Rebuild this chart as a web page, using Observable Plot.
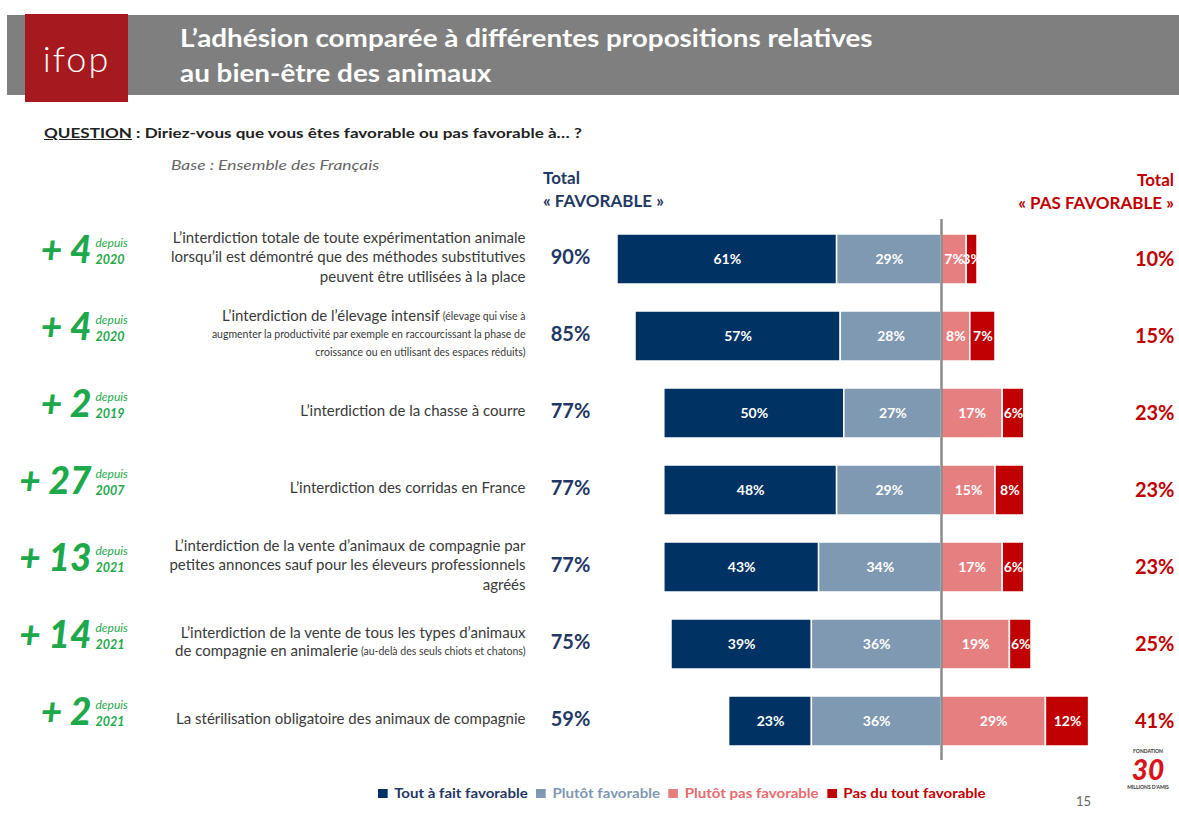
<!DOCTYPE html>
<html><head><meta charset="utf-8">
<script src="https://cdn.jsdelivr.net/npm/d3@7"></script>
<script src="https://cdn.jsdelivr.net/npm/@observablehq/plot@0.6"></script>
<style>
body{margin:0;background:#fff;font-family:Lato,"Open Sans",sans-serif;}
#page{position:relative;width:1179px;height:814px;overflow:hidden;background:#fff;}
.abs{position:absolute;white-space:nowrap;}
#band{left:7px;top:15px;width:1172px;height:80px;background:#7f7f7f;}
#logo{left:25px;top:14px;width:103px;height:88px;background:#a6191e;color:#fff;font-size:36px;font-weight:300;text-align:center;line-height:88px;letter-spacing:2px;}
#title{left:180px;top:20px;color:#fff;font-weight:700;font-size:24px;line-height:35px;transform:scaleX(1.16);transform-origin:0 0;}
#question{left:44px;top:124px;font-size:14px;font-weight:700;color:#222;transform:scaleX(1.22);transform-origin:0 0;}
#question u{text-decoration:underline;}
#base{left:171px;top:157px;font-size:13.5px;font-style:italic;color:#666;transform:scaleX(1.29);transform-origin:0 0;}
.hdr{font-size:17px;font-weight:700;line-height:23px;}
#hfav{left:543px;top:166px;color:#1f3864;}
#hpas{right:5px;top:168px;color:#c00000;text-align:right;}
#chart{left:0;top:219px;}
#legend{left:378px;top:784px;font-size:14px;font-weight:700;transform:scaleX(1.075);transform-origin:0 0;}
#legend span.sq{display:inline-block;width:9px;height:9px;margin-right:6px;vertical-align:0px;}
#legend span.it{margin-right:8px;}
#pnum{left:1076px;top:793px;font-size:13px;color:#666;}
#logo30{left:1124px;top:748px;width:48px;text-align:center;color:#d7141a;}
#logo30 .s{font-size:5px;color:#333;font-weight:700;line-height:6px;}
#logo30 .n{font-size:28px;font-weight:900;font-style:italic;line-height:30px;height:30px;}
</style></head>
<body><div id="page">
<div id="band" class="abs"></div>
<div id="logo" class="abs">ifop</div>
<div id="title" class="abs">L’adhésion comparée à différentes propositions relatives<br>au bien-être des animaux</div>
<div id="question" class="abs"><u>QUESTION</u> : Diriez-vous que vous êtes favorable ou pas favorable à… ?</div>
<div id="base" class="abs">Base : Ensemble des Français</div>
<div id="hfav" class="abs hdr">Total<br>« FAVORABLE »</div>
<div id="hpas" class="abs hdr">Total<br>« PAS FAVORABLE »</div>
<div id="chart" class="abs"></div>
<div id="legend" class="abs"></div>
<div id="pnum" class="abs">15</div>
<div id="logo30" class="abs"><div class="s">FONDATION</div><div class="n">30</div><div class="s">MILLIONS D'AMIS</div></div>
</div>
<script>
// ---------- DATA ----------
const items = ["Expérimentation animale","Élevage intensif","Chasse à courre","Corridas","Petites annonces","Animalerie","Stérilisation"];
const toutAFait = [61,57,50,48,43,39,23];
const plutot    = [29,28,27,29,34,36,36];
const plutotPas = [7,8,17,15,17,19,29];
const pasDuTout = [3,7,6,8,6,6,12];
const totalFav  = [90,85,77,77,77,75,59];
const totalPas  = [10,15,23,23,23,25,41];
const evolution = [4,4,2,27,13,14,2];
const depuisYear = [2020,2020,2019,2007,2021,2021,2021];
const seriesNames = ["Tout à fait favorable","Plutôt favorable","Plutôt pas favorable","Pas du tout favorable"];
const seriesColors = ["#003263","#7f99b2","#e67f80","#c00000"];
const legendTextColors = ["#1f3864","#7f99b2","#e56b6f","#c00000"];
// label lines: each line is a list of [text, small?]
const labelLines = [
  [[["L’interdiction totale de toute expérimentation animale",false]],
   [["lorsqu’il est démontré que des méthodes substitutives",false]],
   [["peuvent être utilisées à la place",false]]],
  [[["L’interdiction de l’élevage intensif",false],[" (élevage qui vise à",true]],
   [["augmenter la productivité par exemple en raccourcissant la phase de",true]],
   [["croissance ou en utilisant des espaces réduits)",true]]],
  [[["L’interdiction de la chasse à courre",false]]],
  [[["L’interdiction des corridas en France",false]]],
  [[["L’interdiction de la vente d’animaux de compagnie par",false]],
   [["petites annonces sauf pour les éleveurs professionnels",false]],
   [["agréés",false]]],
  [[["L’interdiction de la vente de tous les types d’animaux",false]],
   [["de compagnie en animalerie",false],[" (au-delà des seuls chiots et chatons)",true]]],
  [[["La stérilisation obligatoire des animaux de compagnie",false]]]
];

// ---------- LAYOUT ----------
const W = 1179, H = 541, ZERO = 941, PXPER = 3.6;
const px2v = px => (px - ZERO) / PXPER;
const MAIN = 15, SMALL = 10.5, LABEL_RIGHT = 525;
const ctx = document.createElement("canvas").getContext("2d");
function measure(t, size){ ctx.font = `${size}px Lato`; return ctx.measureText(t).width; }

// segments
const segs = [];
items.forEach((it,i)=>{
  segs.push({item:it, s:seriesNames[0], x1:-totalFav[i], x2:-plutot[i], v:toutAFait[i]});
  segs.push({item:it, s:seriesNames[1], x1:-plutot[i], x2:0, v:plutot[i]});
  segs.push({item:it, s:seriesNames[2], x1:0, x2:plutotPas[i], v:plutotPas[i]});
  segs.push({item:it, s:seriesNames[3], x1:plutotPas[i], x2:totalPas[i], v:pasDuTout[i]});
});

// label text records grouped by line offset & size
const groups = new Map();
labelLines.forEach((lines,i)=>{
  const n = lines.length;
  const hasSmall = lines.some(l => l.some(s => s[1]));
  const lh = hasSmall ? 18 : 19.5;
  lines.forEach((line,li)=>{
    const dy = (li - (n-1)/2) * lh - 2;
    let right = LABEL_RIGHT;
    for (let k=line.length-1;k>=0;k--){
      const [t,small] = line[k];
      const key = dy+"|"+small;
      if(!groups.has(key)) groups.set(key,{dy,small,data:[]});
      groups.get(key).data.push({item:items[i], text:t, x:px2v(right)});
      right -= measure(t, small?SMALL:MAIN);
    }
  });
});
const labelMarks = [...groups.values()].map(g => Plot.text(g.data, {
  x:"x", y:"item", text:"text", textAnchor:"end",
  dy: g.dy, fontSize: g.small?SMALL:MAIN,
  fill:"#3a3a3a"
}));

const green = "#1ea84c";
const chart = Plot.plot({
  width: W, height: H, margin: 0,
  style:{fontFamily:"Lato", background:"transparent", overflow:"visible"},
  x:{domain:[px2v(0), px2v(W)], axis:null},
  y:{domain:items, paddingInner:0.353, paddingOuter:0.1765, axis:null},
  color:{domain:seriesNames, range:seriesColors},
  marks:[
    Plot.barX(segs, {x1:"x1", x2:"x2", y:"item", fill:"s", stroke:"#fff", strokeWidth:1.5}),
    Plot.ruleX([0], {stroke:"#8c8c8c", strokeWidth:2.5}),
    Plot.text(segs, {x:d=>(d.x1+d.x2)/2, y:"item", text:d=>d.v+"%", fill:"#fff", fontWeight:700, fontSize:14}),
    ...labelMarks,
    Plot.text(items, {x:()=>px2v(570), y:d=>d, text:(d,i)=>totalFav[i]+"%", fill:"#1f3864", fontWeight:700, fontSize:20, dy:-2}),
    Plot.text(items, {x:()=>px2v(1174), y:d=>d, text:(d,i)=>totalPas[i]+"%", fill:"#c00000", fontWeight:700, fontSize:20, textAnchor:"end"}),
    Plot.text(items, {x:()=>px2v(91), y:d=>d, text:(d,i)=>"+ "+evolution[i], fill:green, fontWeight:900, fontStyle:"italic", fontSize:37, textAnchor:"end", dy:-8}),
    Plot.text(items, {x:()=>px2v(95), y:d=>d, text:()=>"depuis", fill:green, fontStyle:"italic", fontSize:12, textAnchor:"start", dy:-16}),
    Plot.text(items, {x:()=>px2v(95), y:d=>d, text:(d,i)=>String(depuisYear[i]), fill:green, fontStyle:"italic", fontWeight:700, fontSize:12.5, textAnchor:"start", dy:0})
  ]
});
document.getElementById("chart").appendChild(chart);

// legend
const lg = document.getElementById("legend");
seriesNames.forEach((s,i)=>{
  const sq = document.createElement("span"); sq.className="sq"; sq.style.background=seriesColors[i];
  const t = document.createElement("span"); t.className="it"; t.textContent=s; t.style.color=legendTextColors[i];
  lg.appendChild(sq); lg.appendChild(t);
});
</script>
</body></html>
